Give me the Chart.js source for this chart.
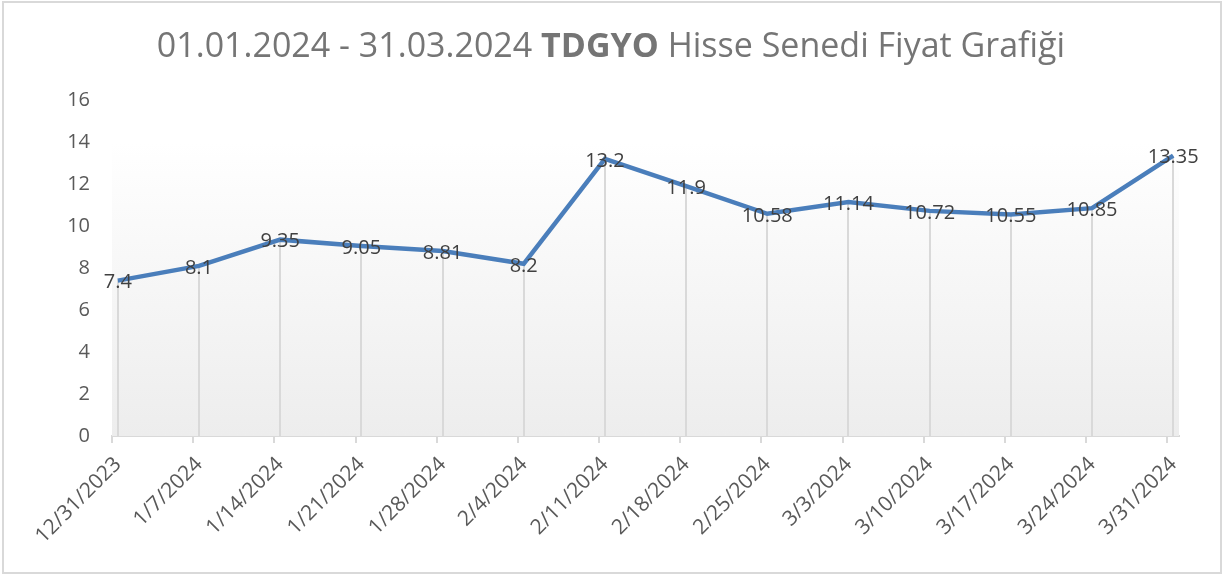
<!DOCTYPE html>
<html lang="tr">
<head>
    <meta charset="UTF-8">
    <title>TDGYO Hisse Senedi Fiyat Grafiği</title>
    <script src="https://cdn.jsdelivr.net/npm/chart.js"></script>
    <style>
        body { margin: 0; background: #fff; }
        .wrap { position: relative; width: 1222px; height: 575px; }
        .frame { position: absolute; left: 2px; top: 1px; width: 1220px; height: 573px;
                 box-sizing: border-box; border: 2px solid #d9d9d9; pointer-events: none; }
        .title { position: absolute; left: 0; right: 0; top: 21px; text-align: center;
                 font-family: "Open Sans", sans-serif; font-size: 34px; color: #757575; }
        .title b { font-weight: 700; }
    </style>
</head>
<body>
    <div class="wrap">
        <canvas id="priceChart" width="1222" height="575"></canvas>
        <div class="title">01.01.2024 - 31.03.2024 <b>TDGYO</b> Hisse Senedi Fiyat Grafiği</div>
        <div class="frame"></div>
    </div>

    <script>
    // haftalık kapanış tarihleri ve fiyatlar
    const dates = ['12/31/2023', '1/7/2024', '1/14/2024', '1/21/2024', '1/28/2024', '2/4/2024', '2/11/2024',
                   '2/18/2024', '2/25/2024', '3/3/2024', '3/10/2024', '3/17/2024', '3/24/2024', '3/31/2024'];
    const prices = [7.4, 8.1, 9.35, 9.05, 8.81, 8.2, 13.2, 11.9, 10.58, 11.14, 10.72, 10.55, 10.85, 13.35];
    const yTicks = [0, 2, 4, 6, 8, 10, 12, 14, 16];
    const bandTop = 14;

    const axisColor = '#d9d9d9';
    const labelColor = '#595959';
    const fontFamily = '"Open Sans", sans-serif';

    function parseDate(s) {
        const [m, d, y] = s.split('/').map(Number);
        return Date.UTC(y, m - 1, d);
    }
    const dayMs = 86400000;
    const start = parseDate(dates[0]);
    const dayOffsets = dates.map(d => Math.round((parseDate(d) - start) / dayMs));
    const axisMax = dayOffsets[dayOffsets.length - 1] + 1;

    // Excel tarih ekseni: nokta günün ortasında
    const points = prices.map((p, i) => ({ x: dayOffsets[i] + 0.5, y: p }));
    const band = [{ x: 0, y: bandTop }, { x: axisMax, y: bandTop }];

    const dropLines = {
        id: 'dropLines',
        afterDatasetDraw(chart, args) {
            if (args.index !== 1) return;
            const { ctx, chartArea, scales: { x, y } } = chart;
            ctx.save();
            ctx.strokeStyle = axisColor;
            ctx.lineWidth = 2;
            points.forEach(pt => {
                const px = Math.round(x.getPixelForValue(pt.x));
                ctx.beginPath();
                ctx.moveTo(px, y.getPixelForValue(pt.y));
                ctx.lineTo(px, chartArea.bottom);
                ctx.stroke();
            });
            ctx.restore();
        }
    };

    const dataLabels = {
        id: 'dataLabels',
        afterDatasetsDraw(chart) {
            const { ctx } = chart;
            const meta = chart.getDatasetMeta(0);
            ctx.save();
            ctx.font = '20px ' + fontFamily;
            ctx.fillStyle = '#404040';
            ctx.textAlign = 'center';
            ctx.textBaseline = 'middle';
            meta.data.forEach((el, i) => {
                ctx.fillText(String(prices[i]), el.x, el.y + 2);
            });
            ctx.restore();
        }
    };

    new Chart(document.getElementById('priceChart'), {
        type: 'line',
        data: {
            datasets: [{
                data: points,
                borderColor: '#4a7ebb',
                borderWidth: 4.5,
                pointRadius: 0,
                tension: 0,
                order: 0
            }, {
                data: band,
                borderWidth: 0,
                pointRadius: 0,
                fill: 'origin',
                backgroundColor: (context) => {
                    const { ctx, chartArea, scales } = context.chart;
                    if (!chartArea) return '#f2f2f2';
                    const g = ctx.createLinearGradient(0, scales.y.getPixelForValue(bandTop), 0, chartArea.bottom);
                    g.addColorStop(0, '#ffffff');
                    g.addColorStop(1, '#ededed');
                    return g;
                },
                order: 1
            }]
        },
        options: {
            responsive: false,
            animation: false,
            layout: { padding: { top: 100, right: 43, left: 0, bottom: 0 } },
            plugins: {
                legend: { display: false },
                tooltip: { enabled: false },
                title: { display: false }
            },
            scales: {
                x: {
                    type: 'linear',
                    min: 0,
                    max: axisMax,
                    afterBuildTicks: (scale) => {
                        scale.ticks = dayOffsets.map(v => ({ value: v }));
                    },
                    afterFit: (scale) => { scale.height = 139; },
                    grid: { display: true, drawOnChartArea: false, drawTicks: true, tickLength: 7, color: axisColor, lineWidth: 2 },
                    border: { display: true, color: axisColor, width: 2 },
                    ticks: {
                        autoSkip: false,
                        minRotation: 45,
                        maxRotation: 45,
                        padding: 9,
                        labelOffset: 6,
                        color: labelColor,
                        font: { family: fontFamily, size: 21 },
                        callback: (v) => dates[dayOffsets.indexOf(v)]
                    }
                },
                y: {
                    min: 0,
                    max: 16,
                    afterBuildTicks: (scale) => {
                        scale.ticks = yTicks.map(v => ({ value: v }));
                    },
                    afterFit: (scale) => { scale.width = 112; },
                    grid: { display: false, drawTicks: false },
                    border: { display: false },
                    ticks: {
                        padding: 22,
                        color: labelColor,
                        font: { family: fontFamily, size: 20 }
                    }
                }
            }
        },
        plugins: [dropLines, dataLabels]
    });
    </script>
</body>
</html>
